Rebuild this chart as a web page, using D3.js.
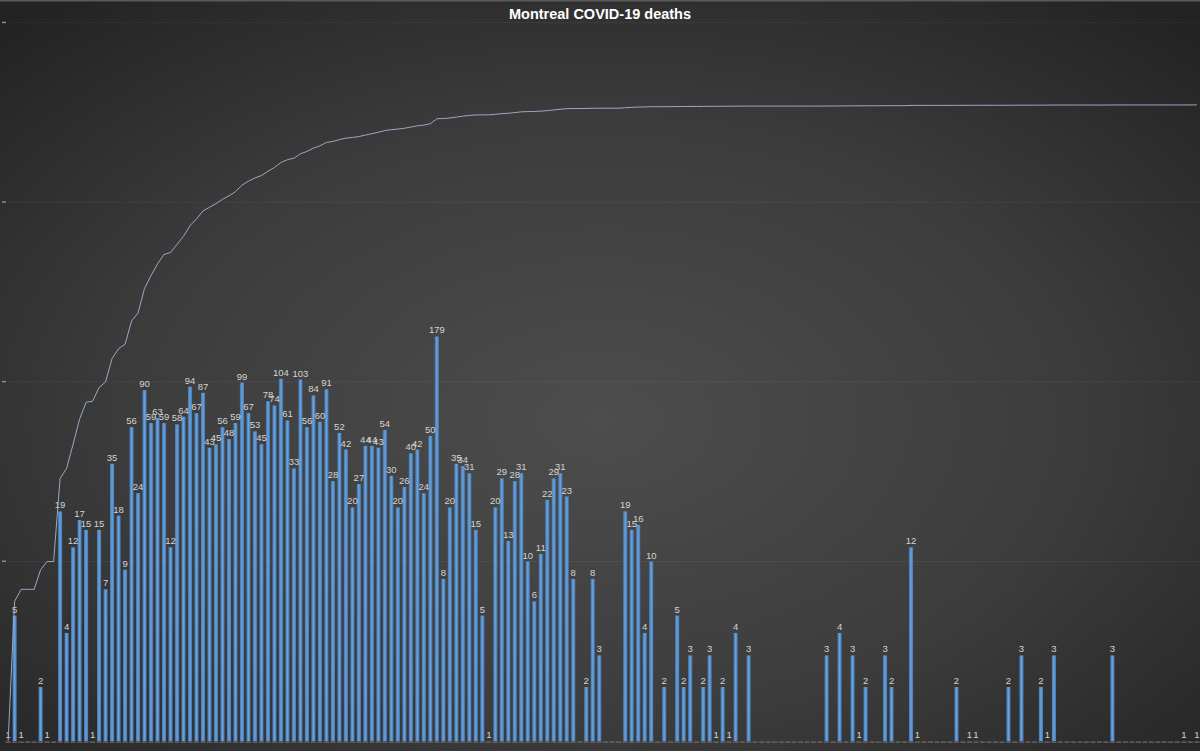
<!DOCTYPE html>
<html>
<head>
<meta charset="utf-8">
<script src="https://cdn.jsdelivr.net/npm/d3@7"></script>
<style>
html,body{margin:0;padding:0;background:#2a2a2a;overflow:hidden;}
svg{display:block;}
</style>
</head>
<body>
<svg id="chart" width="1200" height="751"></svg>
<script>
// ---- data (daily deaths, one entry per day; 0 = no value plotted) ----
const title = "Montreal COVID-19 deaths";
const dailyDeaths = [
  1,5,1,0,0,2,1,0,19,4,12,17,15,1,15,7,35,18,9,56,
  24,90,59,63,59,12,58,64,94,67,87,43,45,56,48,59,99,67,53,45,
  78,74,104,61,33,103,56,84,60,91,28,52,42,20,27,44,44,43,54,30,
  20,26,40,42,24,50,179,8,20,35,34,31,15,5,1,20,29,13,28,31,
  10,6,11,22,29,31,23,8,0,2,8,3,0,0,0,19,15,16,4,10,
  0,2,0,5,2,3,0,2,3,1,2,1,4,0,3,0,0,0,0,0,
  0,0,0,0,0,0,3,0,4,0,3,1,2,0,0,3,2,0,0,12,
  1,0,0,0,0,0,2,0,1,1,0,0,0,0,2,0,3,0,0,2,
  1,3,0,0,0,0,0,0,0,0,3,0,0,0,0,0,0,0,0,0,
  0,1,0,1
];
const categories = dailyDeaths.map((d, i) => i);
const yTickValues = [1, 10, 100, 1000, 10000];
// cumulative deaths derived from the daily series
const cumulative = Array.from(d3.cumsum(dailyDeaths));

const W = 1200, H = 751;
const svg = d3.select("#chart");
const defs = svg.append("defs");

const bg = defs.append("radialGradient").attr("id","bg")
  .attr("cx","50%").attr("cy","56%").attr("r","72%");
bg.append("stop").attr("offset","0%").attr("stop-color","#4d4d4d");
bg.append("stop").attr("offset","55%").attr("stop-color","#3c3c3c");
bg.append("stop").attr("offset","100%").attr("stop-color","#232323");

const barGrad = defs.append("linearGradient").attr("id","barg")
  .attr("x1","0%").attr("x2","100%").attr("y1","0%").attr("y2","0%");
barGrad.append("stop").attr("offset","0%").attr("stop-color","#3f74ad");
barGrad.append("stop").attr("offset","50%").attr("stop-color","#6da3dc");
barGrad.append("stop").attr("offset","100%").attr("stop-color","#3f74ad");

svg.append("rect").attr("width",W).attr("height",H).attr("fill","url(#bg)");
svg.append("rect").attr("width",W).attr("height",1.5).attr("fill","#5a5a5a");

const x = d3.scaleBand().domain(categories).range([6.06, 1198.9])
  .paddingInner(0.36).paddingOuter(0);
const y = d3.scaleLog().domain([1, 10000]).range([741.1, 22.7]);

// gridlines
svg.append("g").selectAll("line").data(yTickValues.slice(1)).join("line")
  .attr("x1", 8).attr("x2", W).attr("y1", d => y(d)).attr("y2", d => y(d))
  .attr("stroke","#ffffff").attr("stroke-opacity",0.05).attr("stroke-width",1);

// left axis tiny labels (unreadable in reference -> small marks)
svg.append("g").selectAll("rect").data(yTickValues.slice(1)).join("rect")
  .attr("x", 2).attr("y", d => y(d) - 1).attr("width", 4).attr("height", 1.5)
  .attr("fill","#8a8a8a");

// x axis: row of short dashes under each category
svg.append("g").selectAll("rect").data(categories).join("rect")
  .attr("x", d => x(d) - 0.5).attr("y", 741.5).attr("width", x.bandwidth() + 1).attr("height", 1.2)
  .attr("fill","#6f6f6f");

// bars
const plotted = categories.filter(i => dailyDeaths[i] > 0);
svg.append("g").selectAll("rect").data(plotted).join("rect")
  .attr("x", i => x(i))
  .attr("width", x.bandwidth())
  .attr("y", i => y(dailyDeaths[i]))
  .attr("height", i => y(1) - y(dailyDeaths[i]))
  .attr("fill","url(#barg)");

// labels
svg.append("g").selectAll("text").data(plotted).join("text")
  .attr("x", i => x(i) + x.bandwidth()/2)
  .attr("y", i => y(dailyDeaths[i]) - 3)
  .attr("text-anchor","middle")
  .attr("font-family","'Liberation Sans',sans-serif")
  .attr("font-size", 9.5)
  .attr("fill","#d4d4d4")
  .text(i => dailyDeaths[i]);

// cumulative line
const line = d3.line()
  .x((d, i) => x(categories[i]) + x.bandwidth()/2)
  .y(d => y(d));
svg.append("path").datum(cumulative)
  .attr("d", line)
  .attr("fill","none")
  .attr("stroke","#98aac4")
  .attr("stroke-width",1);

// title
svg.append("text").attr("x", 600).attr("y", 19)
  .attr("text-anchor","middle")
  .attr("font-family","'Liberation Sans',sans-serif")
  .attr("font-weight","bold").attr("font-size", 14.5)
  .attr("fill","#ffffff").text(title);
</script>
</body>
</html>
